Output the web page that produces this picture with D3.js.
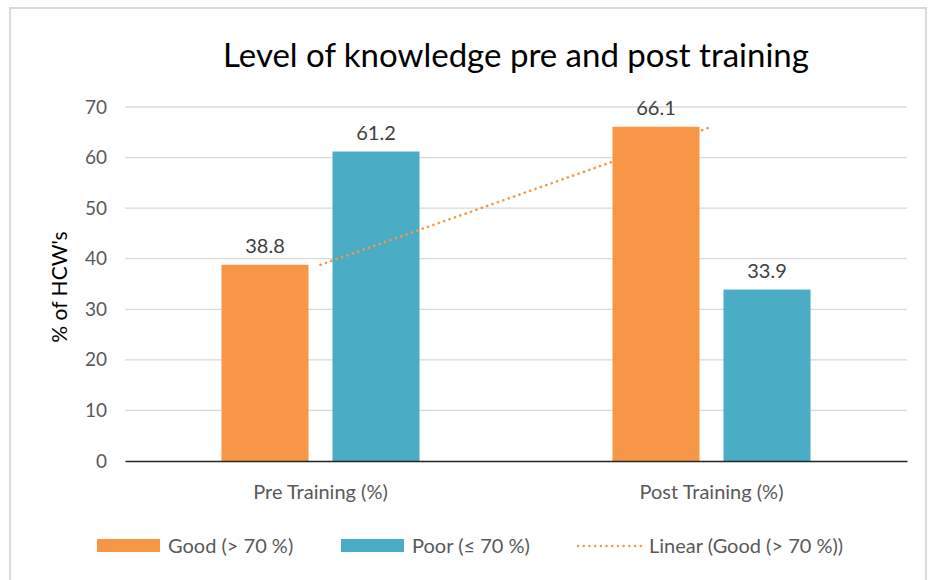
<!DOCTYPE html>
<html>
  <head>
    <meta charset="utf-8">
    <title>Level of knowledge pre and post training</title>
    <script src="https://cdnjs.cloudflare.com/ajax/libs/d3/7.8.5/d3.min.js"></script>
    <style>
      body { margin: 0; background: #fff; }
      text { font-family: Lato, "Open Sans", sans-serif; }
    </style>
  </head>
  <body>

    <svg class="chart" width="932" height="580"></svg>

    <script>

      var categories = ['Pre Training (%)', 'Post Training (%)'];
      var seriesNames = ['Good (> 70 %)', 'Poor (\u2264 70 %)'];
      var good = [38.8, 66.1];
      var poor = [61.2, 33.9];
      var yTicks = [0, 10, 20, 30, 40, 50, 60, 70];
      var trendName = 'Linear (Good (> 70 %))';

      var colors = ['#F79646', '#4BACC6'];
      var values = [good, poor];

      var rows = categories.map(function(c, i) {
        return seriesNames.map(function(s, j) {
          return { category: c, series: s, value: values[j][i], color: colors[j] };
        });
      });

      var svg = d3.select('svg.chart');

      // frame of the chart area
      svg.append('rect')
        .attr('x', 10).attr('y', 8)
        .attr('width', 916).attr('height', 590)
        .attr('fill', '#fff')
        .attr('stroke', '#d9d9d9')
        .attr('stroke-width', 2);

      var plotLeft = 125, plotRight = 907, plotTop = 107, plotBottom = 461;

      var x0 = d3.scaleBand().domain(categories).range([plotLeft, plotRight]);
      var x1 = d3.scaleBand().domain(seriesNames)
        .range([0, x0.bandwidth()])
        .paddingInner(0.216)
        .paddingOuter(0.869);
      var y = d3.scaleLinear().domain([0, 70]).range([plotBottom, plotTop]);

      // gridlines
      svg.append('g')
        .selectAll('line')
        .data(yTicks.slice(1))
        .join('line')
          .attr('x1', plotLeft).attr('x2', plotRight)
          .attr('y1', function(d) { return y(d); })
          .attr('y2', function(d) { return y(d); })
          .attr('stroke', '#d9d9d9')
          .attr('stroke-width', 1.3);

      // y axis labels
      var yAxis = svg.append('g')
        .attr('transform', 'translate(' + plotLeft + ',0)')
        .call(d3.axisLeft(y).tickValues(yTicks).tickSize(0).tickPadding(18));
      yAxis.select('.domain').remove();
      yAxis.selectAll('text')
        .attr('font-size', 19)
        .attr('fill', '#595959')
        .style('font-family', 'Lato, sans-serif');

      // bars
      var groups = svg.append('g')
        .selectAll('g')
        .data(rows)
        .join('g')
          .attr('transform', function(d, i) { return 'translate(' + x0(categories[i]) + ',0)'; });

      groups.selectAll('rect')
        .data(function(d) { return d; })
        .join('rect')
          .attr('x', function(d) { return x1(d.series); })
          .attr('y', function(d) { return y(d.value); })
          .attr('width', x1.bandwidth())
          .attr('height', function(d) { return y(0) - y(d.value); })
          .attr('fill', function(d) { return d.color; });

      groups.selectAll('text')
        .data(function(d) { return d; })
        .join('text')
          .attr('x', function(d) { return x1(d.series) + x1.bandwidth() / 2; })
          .attr('y', function(d) { return y(d.value) - 12; })
          .attr('text-anchor', 'middle')
          .attr('font-size', 20)
          .attr('fill', '#404040')
          .text(function(d) { return d.value.toFixed(1); });

      // linear trendline through the Good series, from category centre to category centre
      var trend = d3.line()
        .x(function(d, i) { return x0(categories[i]) + x0.bandwidth() / 2; })
        .y(function(d) { return y(d); });

      svg.append('path')
        .datum(good)
        .attr('d', trend)
        .attr('fill', 'none')
        .attr('stroke', '#F79646')
        .attr('stroke-width', 2.6)
        .attr('stroke-linecap', 'round')
        .attr('stroke-dasharray', '0.1 5.6');

      // x axis
      var xAxis = svg.append('g')
        .attr('transform', 'translate(0,' + plotBottom + ')')
        .call(d3.axisBottom(x0).tickSize(0).tickPadding(24));
      xAxis.select('.domain')
        .attr('stroke', '#262626')
        .attr('stroke-width', 1.3);
      xAxis.selectAll('text')
        .attr('font-size', 20)
        .attr('fill', '#595959')
        .style('font-family', 'Lato, sans-serif');

      // title
      svg.append('text')
        .attr('x', 516).attr('y', 67)
        .attr('text-anchor', 'middle')
        .attr('font-size', 33)
        .attr('fill', '#000')
        .text('Level of knowledge pre and post training');

      // y axis title
      svg.append('text')
        .attr('transform', 'translate(67,' + ((plotTop + plotBottom) / 2 + 3) + ') rotate(-90)')
        .attr('text-anchor', 'middle')
        .attr('font-size', 21)
        .attr('fill', '#000')
        .text("% of HCW's");

      // legend
      var legend = svg.append('g').attr('transform', 'translate(0,546)');
      var legendItems = [
        { name: seriesNames[0], color: colors[0], x: 97, type: 'bar' },
        { name: seriesNames[1], color: colors[1], x: 341, type: 'bar' },
        { name: trendName, color: colors[0], x: 578, type: 'line' }
      ];
      legendItems.forEach(function(d) {
        if (d.type === 'bar') {
          legend.append('rect')
            .attr('x', d.x).attr('y', -7)
            .attr('width', 63).attr('height', 13)
            .attr('fill', d.color);
        } else {
          legend.append('line')
            .attr('x1', d.x).attr('x2', d.x + 63)
            .attr('y1', 0).attr('y2', 0)
            .attr('stroke', d.color)
            .attr('stroke-width', 2.4)
            .attr('stroke-linecap', 'round')
            .attr('stroke-dasharray', '0.1 5.6');
        }
        legend.append('text')
          .attr('x', d.x + 71).attr('y', 7)
          .attr('font-size', 20)
          .attr('fill', '#595959')
          .text(d.name);
      });

    </script>
  </body>
</html>
